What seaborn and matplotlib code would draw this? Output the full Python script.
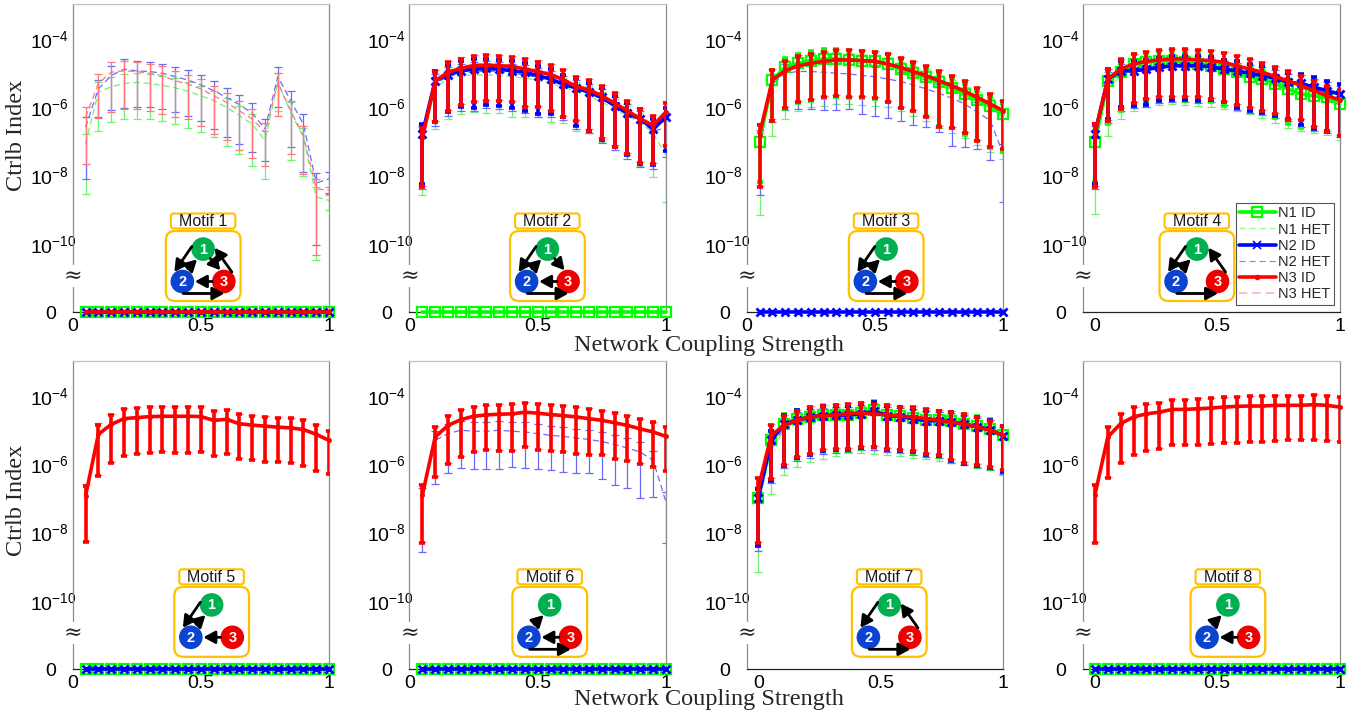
import numpy as np
import pandas as pd
import matplotlib
matplotlib.use("Agg")
import matplotlib.pyplot as plt
import matplotlib.transforms as mtransforms
from matplotlib.patches import FancyBboxPatch, Circle, FancyArrowPatch
from matplotlib.lines import Line2D
from matplotlib.ticker import NullLocator
import seaborn as sns

# ---------------------------------------------------------------- data
# x: network coupling strength
x_a = [0.05, 0.10, 0.15, 0.20, 0.25, 0.30, 0.35, 0.40, 0.45, 0.50,
       0.55, 0.60, 0.65, 0.70, 0.75, 0.80, 0.85, 0.90, 0.95, 1.00]
x_b = [0.000, 0.053, 0.105, 0.158, 0.211, 0.263, 0.316, 0.368, 0.421, 0.474,
       0.526, 0.579, 0.632, 0.684, 0.737, 0.789, 0.842, 0.895, 0.947, 1.000]

# values are given as log10 of the controllability index; -inf means exactly 0
ZERO = [float("-inf")] * 20

# Motif 1
p1_n1_het = [-7.07, -5.55, -5.40, -5.30, -5.27, -5.30, -5.36, -5.43, -5.53, -5.66, -5.80, -6.00, -6.24, -6.49, -6.97, -5.27, -6.14, -6.88, -8.63, -8.73]
p1_n1_het_lo = [-8.53, -6.68, -6.44, -6.34, -6.34, -6.34, -6.41, -6.49, -6.60, -6.73, -6.88, -7.14, -7.36, -7.72, -8.11, -6.10, -7.53, -8.00, -10.48, -9.02]
p1_n2_het = [-6.58, -5.46, -5.07, -4.88, -4.93, -4.95, -5.00, -5.10, -5.20, -5.34, -5.51, -5.71, -5.92, -6.17, -6.63, -5.10, -5.80, -6.50, -8.22, -8.09]
p1_n2_het_lo = [-8.09, -6.29, -6.08, -6.02, -6.00, -6.00, -6.05, -6.14, -6.24, -6.39, -6.63, -6.88, -7.07, -7.31, -7.56, -6.00, -7.17, -7.90, -10.04, -8.50]
p1_n3_het = [-6.29, -5.30, -4.97, -4.93, -4.95, -5.00, -5.07, -5.22, -5.32, -5.46, -5.66, -5.85, -6.10, -6.34, -6.73, -5.27, -6.10, -6.83, -8.39, -8.43]
p1_n3_het_lo = [-7.65, -6.31, -6.14, -6.05, -6.05, -6.10, -6.19, -6.29, -6.34, -6.56, -6.78, -6.97, -7.26, -7.48, -7.71, -6.24, -7.36, -7.95, -10.34, -8.53]

# Motif 2
p2_n1_het = [-7.00, -5.43, -5.15, -5.07, -5.05, -5.05, -5.07, -5.10, -5.15, -5.20, -5.30, -5.41, -5.53, -5.66, -5.85, -6.05, -6.25, -6.45, -6.75, -7.40]
p2_n1_het_lo = [-8.58, -6.63, -6.34, -6.19, -6.14, -6.17, -6.17, -6.27, -6.27, -6.29, -6.44, -6.47, -6.68, -6.76, -7.02, -7.17, -7.41, -7.73, -8.04, -8.78]
p2_n2_id = [-6.78, -5.22, -5.04, -4.93, -4.88, -4.86, -4.88, -4.93, -4.97, -5.07, -5.17, -5.32, -5.43, -5.56, -5.71, -5.95, -6.17, -6.34, -6.63, -6.29]
p2_n2_id_lo = [-8.24, -6.44, -6.14, -6.00, -6.02, -5.92, -5.96, -6.02, -6.10, -6.19, -6.19, -6.29, -6.56, -6.68, -6.97, -7.17, -7.41, -7.65, -7.70, -7.27]
p2_n2_het = [-6.85, -5.30, -5.10, -5.00, -4.95, -4.93, -4.95, -5.00, -5.05, -5.12, -5.22, -5.35, -5.47, -5.60, -5.75, -5.98, -6.20, -6.40, -6.70, -6.60]
p2_n2_het_lo = [-8.40, -6.55, -6.25, -6.10, -6.10, -6.02, -6.05, -6.10, -6.18, -6.27, -6.28, -6.38, -6.63, -6.76, -7.05, -7.25, -7.50, -7.75, -7.80, -7.45]
p2_n3_id = [-6.90, -5.24, -4.97, -4.86, -4.78, -4.76, -4.78, -4.80, -4.88, -4.95, -5.04, -5.19, -5.39, -5.49, -5.66, -5.88, -6.10, -6.34, -6.53, -6.14]
p2_n3_id_lo = [-8.34, -6.44, -6.11, -5.92, -5.85, -5.80, -5.80, -5.85, -6.00, -5.98, -6.10, -6.29, -6.41, -6.68, -6.92, -7.15, -7.38, -7.64, -7.66, -7.12]
p2_n3_het = [-6.80, -5.20, -4.93, -4.80, -4.74, -4.72, -4.74, -4.77, -4.84, -4.90, -5.00, -5.15, -5.35, -5.45, -5.62, -5.85, -6.07, -6.30, -6.50, -6.10]
p2_n3_het_lo = [-8.30, -6.40, -6.08, -5.90, -5.82, -5.78, -5.78, -5.82, -5.96, -5.95, -6.07, -6.25, -6.38, -6.64, -6.88, -7.10, -7.34, -7.60, -7.62, -7.08]

# Motif 3
p3_n1_id = [-7.02, -5.20, -4.83, -4.71, -4.63, -4.58, -4.58, -4.61, -4.63, -4.65, -4.73, -4.88, -5.00, -5.12, -5.27, -5.43, -5.61, -5.78, -5.97, -6.19]
p3_n1_id_lo = [-8.20, -6.40, -6.05, -5.88, -5.80, -5.73, -5.70, -5.72, -5.73, -5.75, -5.85, -6.02, -6.10, -6.25, -6.55, -6.60, -6.80, -7.00, -7.20, -7.30]
p3_n1_het = [-7.05, -5.35, -4.95, -4.80, -4.72, -4.68, -4.67, -4.70, -4.72, -4.75, -4.82, -4.95, -5.07, -5.20, -5.35, -5.50, -5.68, -5.85, -6.05, -6.30]
p3_n1_het_lo = [-9.17, -6.83, -6.34, -6.10, -6.00, -5.95, -5.90, -5.90, -5.92, -5.95, -6.00, -6.10, -6.25, -6.40, -6.60, -6.75, -6.90, -7.10, -7.30, -7.50]
p3_n2_het = [-6.97, -5.32, -5.00, -4.95, -4.95, -4.97, -5.00, -5.02, -5.07, -5.10, -5.17, -5.24, -5.34, -5.46, -5.59, -5.73, -5.90, -6.14, -6.39, -7.36]
p3_n2_het_lo = [-8.58, -6.44, -6.08, -6.05, -6.05, -6.08, -6.08, -6.05, -6.19, -6.24, -6.31, -6.41, -6.53, -6.58, -6.73, -7.12, -7.17, -7.22, -7.54, -8.78]
p3_n3_id = [-6.80, -5.20, -4.93, -4.78, -4.71, -4.65, -4.61, -4.61, -4.63, -4.65, -4.73, -4.83, -4.95, -5.07, -5.22, -5.36, -5.53, -5.71, -5.90, -6.10]
p3_n3_id_lo = [-8.34, -6.39, -6.02, -5.85, -5.78, -5.71, -5.66, -5.71, -5.71, -5.73, -5.85, -6.02, -6.10, -6.27, -6.58, -6.60, -6.76, -7.00, -7.17, -7.22]
p3_n3_het = [-6.75, -5.17, -4.90, -4.75, -4.68, -4.62, -4.58, -4.58, -4.60, -4.62, -4.70, -4.80, -4.92, -5.04, -5.19, -5.33, -5.50, -5.68, -5.87, -6.07]
p3_n3_het_lo = [-8.30, -6.35, -5.98, -5.82, -5.75, -5.68, -5.63, -5.68, -5.68, -5.70, -5.82, -5.98, -6.07, -6.24, -6.55, -6.57, -6.73, -6.97, -7.14, -7.19]

# Motif 4
p4_n1_id = [-7.02, -5.22, -4.97, -4.73, -4.68, -4.63, -4.63, -4.68, -4.73, -4.78, -4.88, -4.97, -5.10, -5.17, -5.32, -5.46, -5.61, -5.66, -5.71, -5.90]
p4_n1_id_lo = [-8.20, -6.50, -6.10, -5.95, -5.85, -5.80, -5.78, -5.80, -5.82, -5.85, -5.95, -6.02, -6.10, -6.20, -6.30, -6.50, -6.60, -6.65, -6.70, -6.85]
p4_n1_het = [-7.20, -5.45, -5.10, -4.90, -4.80, -4.75, -4.73, -4.75, -4.78, -4.82, -4.90, -5.00, -5.10, -5.20, -5.33, -5.45, -5.58, -5.68, -5.78, -5.92]
p4_n1_het_lo = [-9.12, -6.83, -6.34, -6.10, -5.98, -5.92, -5.90, -5.92, -5.95, -5.98, -6.05, -6.12, -6.20, -6.30, -6.45, -6.60, -6.68, -6.75, -6.80, -6.95]
p4_n2_id = [-6.78, -5.17, -4.93, -4.93, -4.88, -4.83, -4.78, -4.78, -4.78, -4.81, -4.88, -4.93, -5.00, -5.07, -5.14, -5.27, -5.30, -5.41, -5.51, -5.61]
p4_n2_id_lo = [-8.24, -6.34, -6.00, -5.95, -5.92, -5.80, -5.78, -5.78, -5.80, -5.78, -5.85, -6.02, -6.10, -6.17, -6.24, -6.34, -6.53, -6.63, -6.68, -6.83]
p4_n2_het = [-6.85, -5.25, -5.00, -4.97, -4.92, -4.87, -4.82, -4.82, -4.82, -4.85, -4.92, -4.97, -5.04, -5.11, -5.18, -5.30, -5.34, -5.45, -5.55, -5.65]
p4_n2_het_lo = [-8.40, -6.45, -6.10, -6.02, -5.98, -5.88, -5.85, -5.85, -5.87, -5.85, -5.92, -6.08, -6.16, -6.23, -6.30, -6.40, -6.58, -6.68, -6.74, -6.88]
p4_n3_id = [-6.78, -5.17, -4.88, -4.73, -4.65, -4.61, -4.58, -4.58, -4.61, -4.63, -4.68, -4.78, -4.88, -4.97, -5.10, -5.22, -5.36, -5.51, -5.66, -5.78]
p4_n3_id_lo = [-8.34, -6.39, -6.05, -5.88, -5.75, -5.71, -5.69, -5.71, -5.71, -5.75, -5.85, -5.92, -6.02, -6.10, -6.19, -6.37, -6.37, -6.58, -6.73, -6.83]
p4_n3_het = [-6.75, -5.15, -4.86, -4.71, -4.63, -4.59, -4.56, -4.56, -4.59, -4.61, -4.66, -4.76, -4.86, -4.95, -5.08, -5.20, -5.34, -5.49, -5.64, -5.76]
p4_n3_het_lo = [-8.30, -6.36, -6.02, -5.85, -5.72, -5.68, -5.66, -5.68, -5.68, -5.72, -5.82, -5.89, -5.99, -6.07, -6.16, -6.34, -6.34, -6.55, -6.70, -6.80]

# Motif 5
p5_n3_id = [-6.93, -5.12, -4.83, -4.66, -4.63, -4.60, -4.59, -4.59, -4.59, -4.60, -4.71, -4.68, -4.81, -4.85, -4.88, -4.91, -4.93, -4.98, -5.12, -5.30]
p5_n3_id_lo = [-8.29, -6.34, -5.95, -5.76, -5.71, -5.66, -5.63, -5.66, -5.66, -5.64, -5.76, -5.69, -5.83, -5.88, -5.93, -5.92, -5.95, -6.05, -6.20, -6.29]
p5_n3_het = [-6.88, -5.08, -4.80, -4.64, -4.61, -4.58, -4.57, -4.57, -4.57, -4.58, -4.69, -4.66, -4.79, -4.83, -4.86, -4.89, -4.91, -4.96, -5.10, -5.28]
p5_n3_het_lo = [-8.25, -6.30, -5.92, -5.73, -5.68, -5.63, -5.60, -5.63, -5.63, -5.61, -5.73, -5.66, -5.80, -5.85, -5.90, -5.89, -5.92, -6.02, -6.17, -6.26]

# Motif 6
p6_n2_het = [-7.00, -5.30, -5.10, -5.00, -5.03, -5.03, -5.00, -5.03, -5.05, -5.10, -5.15, -5.18, -5.23, -5.27, -5.33, -5.42, -5.52, -5.64, -5.88, -7.10]
p6_n2_het_lo = [-8.57, -6.57, -6.24, -6.11, -6.13, -6.13, -6.13, -6.08, -6.11, -6.15, -6.18, -6.22, -6.24, -6.24, -6.42, -6.61, -6.69, -7.00, -6.96, -8.32]
p6_n3_id = [-6.91, -5.20, -4.86, -4.69, -4.59, -4.55, -4.53, -4.52, -4.47, -4.50, -4.54, -4.57, -4.61, -4.66, -4.71, -4.78, -4.86, -4.96, -5.05, -5.18]
p6_n3_id_lo = [-8.32, -6.37, -5.98, -5.79, -5.64, -5.59, -5.62, -5.62, -5.49, -5.59, -5.62, -5.64, -5.71, -5.72, -5.74, -5.83, -5.91, -5.98, -6.08, -6.20]
p6_n3_het = [-6.88, -5.15, -4.84, -4.67, -4.57, -4.53, -4.51, -4.50, -4.45, -4.48, -4.52, -4.55, -4.59, -4.64, -4.69, -4.76, -4.84, -4.94, -5.03, -5.16]
p6_n3_het_lo = [-8.29, -6.34, -5.95, -5.76, -5.61, -5.56, -5.59, -5.59, -5.46, -5.56, -5.59, -5.61, -5.68, -5.69, -5.71, -5.80, -5.88, -5.95, -6.05, -6.17]

# Motif 7
p7_n1_id = [-7.00, -5.30, -4.81, -4.68, -4.60, -4.55, -4.55, -4.55, -4.49, -4.42, -4.55, -4.59, -4.64, -4.71, -4.71, -4.74, -4.81, -4.88, -4.96, -5.15]
p7_n1_id_lo = [-8.40, -6.50, -6.05, -5.84, -5.74, -5.64, -5.61, -5.61, -5.54, -5.52, -5.59, -5.64, -5.67, -5.74, -5.77, -5.92, -6.00, -6.08, -6.13, -6.23]
p7_n1_het = [-7.20, -5.60, -5.00, -4.80, -4.70, -4.65, -4.62, -4.60, -4.57, -4.55, -4.60, -4.63, -4.68, -4.73, -4.75, -4.80, -4.86, -4.93, -5.00, -5.20]
p7_n1_het_lo = [-9.15, -6.86, -6.32, -6.08, -5.93, -5.83, -5.76, -5.68, -5.68, -5.70, -5.72, -5.75, -5.80, -5.85, -5.90, -5.95, -6.00, -6.08, -6.15, -6.30]
p7_n2_id = [-7.00, -5.30, -4.83, -4.70, -4.62, -4.57, -4.56, -4.56, -4.51, -4.45, -4.57, -4.60, -4.66, -4.72, -4.72, -4.76, -4.83, -4.90, -4.98, -5.17]
p7_n2_id_lo = [-8.38, -6.48, -6.04, -5.82, -5.72, -5.62, -5.59, -5.59, -5.52, -5.50, -5.57, -5.62, -5.65, -5.72, -5.75, -5.90, -5.98, -6.06, -6.11, -6.21]
p7_n2_het = [-7.10, -5.45, -4.95, -4.76, -4.67, -4.62, -4.60, -4.59, -4.55, -4.50, -4.59, -4.62, -4.67, -4.73, -4.74, -4.78, -4.85, -4.92, -5.00, -5.19]
p7_n2_het_lo = [-8.55, -6.55, -6.10, -5.90, -5.80, -5.70, -5.66, -5.64, -5.58, -5.57, -5.63, -5.68, -5.72, -5.79, -5.82, -5.96, -6.03, -6.10, -6.16, -6.27]
p7_n3_id = [-6.71, -5.15, -4.86, -4.71, -4.61, -4.57, -4.55, -4.52, -4.49, -4.52, -4.55, -4.59, -4.61, -4.66, -4.71, -4.76, -4.81, -4.91, -5.00, -5.15]
p7_n3_id_lo = [-8.32, -6.44, -6.01, -5.79, -5.69, -5.59, -5.56, -5.56, -5.49, -5.49, -5.54, -5.59, -5.62, -5.69, -5.72, -5.88, -5.95, -6.03, -6.08, -6.18]
p7_n3_het = [-6.68, -5.12, -4.83, -4.68, -4.58, -4.54, -4.52, -4.49, -4.46, -4.49, -4.52, -4.56, -4.58, -4.63, -4.68, -4.73, -4.78, -4.88, -4.97, -5.12]
p7_n3_het_lo = [-8.28, -6.40, -5.98, -5.76, -5.66, -5.56, -5.53, -5.53, -5.46, -5.46, -5.51, -5.56, -5.59, -5.66, -5.69, -5.85, -5.92, -6.00, -6.05, -6.15]

# Motif 8
p8_n3_id = [-6.91, -5.20, -4.81, -4.61, -4.52, -4.47, -4.39, -4.39, -4.37, -4.35, -4.32, -4.30, -4.29, -4.29, -4.27, -4.27, -4.27, -4.25, -4.27, -4.32]
p8_n3_id_lo = [-8.32, -6.40, -5.95, -5.74, -5.62, -5.54, -5.42, -5.44, -5.42, -5.40, -5.37, -5.37, -5.35, -5.35, -5.33, -5.30, -5.30, -5.30, -5.33, -5.35]
p8_n3_het = [-6.88, -5.16, -4.78, -4.59, -4.50, -4.45, -4.37, -4.37, -4.35, -4.33, -4.30, -4.28, -4.27, -4.27, -4.25, -4.25, -4.25, -4.23, -4.25, -4.30]
p8_n3_het_lo = [-8.28, -6.36, -5.92, -5.71, -5.59, -5.51, -5.39, -5.41, -5.39, -5.37, -5.34, -5.34, -5.32, -5.32, -5.30, -5.27, -5.27, -5.27, -5.30, -5.32]

# motif wiring (directed edges a->b)
motif_edges_1 = [(1, 2), (2, 1), (1, 3), (3, 1), (3, 2), (2, 3)]
motif_edges_2 = [(1, 2), (2, 1), (1, 3), (3, 2), (2, 3)]
motif_edges_3 = [(1, 2), (2, 1), (3, 2), (2, 3)]
motif_edges_4 = [(1, 2), (2, 1), (3, 1), (2, 3)]
motif_edges_5 = [(1, 2), (2, 1), (3, 2)]
motif_edges_6 = [(2, 1), (3, 2), (2, 3)]
motif_edges_7 = [(1, 2), (3, 1), (2, 3)]
motif_edges_8 = [(2, 1), (3, 2)]

series_names = ["N1 ID", "N1 HET", "N2 ID", "N2 HET", "N3 ID", "N3 HET"]
ytick_values = [1e-12, 1e-10, 1e-8, 1e-6, 1e-4]
ytick_labels = ["0", r"$\mathregular{10^{-10}}$", r"$\mathregular{10^{-8}}$",
                r"$\mathregular{10^{-6}}$", r"$\mathregular{10^{-4}}$"]
xtick_values = [0, 0.5, 1]
xtick_labels = ["0", "0.5", "1"]

panels = [
    dict(x=x_a, s=[(ZERO, ZERO), (p1_n1_het, p1_n1_het_lo), (ZERO, ZERO), (p1_n2_het, p1_n2_het_lo), (ZERO, ZERO), (p1_n3_het, p1_n3_het_lo)], edges=motif_edges_1),
    dict(x=x_a, s=[(ZERO, ZERO), (p2_n1_het, p2_n1_het_lo), (p2_n2_id, p2_n2_id_lo), (p2_n2_het, p2_n2_het_lo), (p2_n3_id, p2_n3_id_lo), (p2_n3_het, p2_n3_het_lo)], edges=motif_edges_2),
    dict(x=x_a, s=[(p3_n1_id, p3_n1_id_lo), (p3_n1_het, p3_n1_het_lo), (ZERO, ZERO), (p3_n2_het, p3_n2_het_lo), (p3_n3_id, p3_n3_id_lo), (p3_n3_het, p3_n3_het_lo)], edges=motif_edges_3),
    dict(x=x_b, s=[(p4_n1_id, p4_n1_id_lo), (p4_n1_het, p4_n1_het_lo), (p4_n2_id, p4_n2_id_lo), (p4_n2_het, p4_n2_het_lo), (p4_n3_id, p4_n3_id_lo), (p4_n3_het, p4_n3_het_lo)], edges=motif_edges_4),
    dict(x=x_a, s=[(ZERO, ZERO), (ZERO, ZERO), (ZERO, ZERO), (ZERO, ZERO), (p5_n3_id, p5_n3_id_lo), (p5_n3_het, p5_n3_het_lo)], edges=motif_edges_5),
    dict(x=x_a, s=[(ZERO, ZERO), (ZERO, ZERO), (ZERO, ZERO), (p6_n2_het, p6_n2_het_lo), (p6_n3_id, p6_n3_id_lo), (p6_n3_het, p6_n3_het_lo)], edges=motif_edges_6),
    dict(x=x_b, s=[(p7_n1_id, p7_n1_id_lo), (p7_n1_het, p7_n1_het_lo), (p7_n2_id, p7_n2_id_lo), (p7_n2_het, p7_n2_het_lo), (p7_n3_id, p7_n3_id_lo), (p7_n3_het, p7_n3_het_lo)], edges=motif_edges_7),
    dict(x=x_b, s=[(ZERO, ZERO), (ZERO, ZERO), (ZERO, ZERO), (ZERO, ZERO), (p8_n3_id, p8_n3_id_lo), (p8_n3_het, p8_n3_het_lo)], edges=motif_edges_8),
]

# ---------------------------------------------------------------- styling
sns.set_theme(style="white")
plt.rcParams["font.family"] = ["Liberation Sans", "DejaVu Sans"]
plt.rcParams["mathtext.default"] = "regular"

GREEN, BLUE, RED = "#00ff00", "#0000ff", "#ff0000"
GREEN_L, BLUE_L, RED_L = "#6cf56c", "#6a6aff", "#ff7878"
DASH = (0, (5, 3))
STYLES = [
    dict(color=GREEN, lw=2.6, ls="-", marker="s", ms=6.5, mfc="none", mew=1.6, elw=2.6, cap=2.0, z=3.0),
    dict(color=GREEN_L, lw=0.9, ls=DASH, marker=None, elw=0.9, cap=2.6, z=2.0),
    dict(color=BLUE, lw=2.6, ls="-", marker="x", ms=6.0, mfc=BLUE, mew=2.0, elw=2.6, cap=2.0, z=3.2),
    dict(color=BLUE_L, lw=0.9, ls=DASH, marker=None, elw=0.9, cap=2.6, z=2.2),
    dict(color=RED, lw=2.6, ls="-", marker="o", ms=3.0, mfc=RED, mew=0.5, elw=2.6, cap=2.2, z=3.4),
    dict(color=RED_L, lw=0.9, ls=DASH, marker=None, elw=0.9, cap=2.6, z=2.4),
]

W, H = 1367, 717
fig = plt.figure(figsize=(W / 100, H / 100), dpi=100)
fig.patch.set_facecolor("white")

FLOOR = 1e-12


def fwd(v):
    v = np.asarray(v, dtype=float)
    return np.log10(np.clip(v, FLOOR, None))


def inv(t):
    return np.power(10.0, np.asarray(t, dtype=float))


def px_rect(left, top, w, h):
    return [left / W, 1 - (top + h) / H, w / W, h / H]


col_left = [72.7, 409.5, 746.7, 1083.3]
row_top = [4.0, 361.0]
AX_W, AX_H = 256.4, 308.0
motif_label_top = [212.5, 568.3]
motif_cx = [0.509, 0.538, 0.544, 0.443, 0.542, 0.547, 0.556, 0.564]

NODE_POS = {1: (38.3, 36.6), 2: (17.5, 69.0), 3: (59.0, 69.0)}
NODE_COL = {1: "#00b050", 2: "#0a44d0", 3: "#ee0000"}
EDGE_PATH = {
    (1, 2): ((27.0, 34.0), (9.5, 59.5)),
    (2, 1): ((22.8, 56.0), (32.2, 46.8)),
    (1, 3): ((45.5, 46.0), (55.5, 57.8)),
    (3, 1): ((67.0, 59.5), (49.8, 35.2)),
    (3, 2): ((47.5, 69.0), (30.0, 69.0)),
    (2, 3): ((18.3, 81.0), (59.5, 81.0)),
}
MW, MH = 76.7, 89.5
ORANGE = "#ffc000"


def draw_motif(left_px, top_px, number, edges):
    m = fig.add_axes(px_rect(left_px, top_px, MW, MH))
    m.set_xlim(0, MW)
    m.set_ylim(MH, 0)
    m.axis("off")
    m.patch.set_alpha(0)
    m.add_patch(FancyBboxPatch((6.0, 1.0), 64.5, 15.0, boxstyle="round,pad=0,rounding_size=3",
                               fc="white", ec=ORANGE, lw=1.5, clip_on=False))
    m.text(38.3, 8.8, f"Motif {number}", ha="center", va="center", fontsize=11.5, color="#1a1a1a")
    m.add_patch(FancyBboxPatch((1.0, 18.5), MW - 2.0, MH - 19.5, boxstyle="round,pad=0,rounding_size=9",
                               fc="white", ec=ORANGE, lw=1.6, clip_on=False))
    for k, (cx, cy) in NODE_POS.items():
        m.add_patch(Circle((cx, cy), 11.8, fc=NODE_COL[k], ec="none", zorder=3))
        m.text(cx, cy + 0.5, str(k), ha="center", va="center", color="white",
               fontsize=10.5, fontweight="bold", zorder=4)
    for e in edges:
        a, b = EDGE_PATH[e]
        m.add_patch(FancyArrowPatch(a, b, arrowstyle="-|>,head_length=0.7,head_width=0.38",
                                    mutation_scale=10, lw=2.0, color="black",
                                    shrinkA=0, shrinkB=0, zorder=5))


axes = []
for i, P in enumerate(panels):
    r, c = divmod(i, 4)
    ax = fig.add_axes(px_rect(col_left[c], row_top[r], AX_W, AX_H))
    axes.append(ax)
    ax.set_yscale("function", functions=(fwd, inv))
    x = np.asarray(P["x"], dtype=float)
    for (mean_exp, lo_exp), st in zip(P["s"], STYLES):
        mean = np.power(10.0, np.asarray(mean_exp, dtype=float))
        lo = np.power(10.0, np.asarray(lo_exp, dtype=float))
        std = mean - lo
        if np.any(std > 0):
            ax.errorbar(x, mean, yerr=[std, std], fmt="none", ecolor=st["color"],
                        elinewidth=st["elw"], capsize=st["cap"], capthick=st["elw"],
                        zorder=st["z"] - 0.01)
        df = pd.DataFrame({"x": x, "y": mean})
        kw = dict(color=st["color"], linewidth=st["lw"], linestyle=st["ls"],
                  zorder=st["z"], clip_on=False)
        if st["marker"]:
            kw.update(marker=st["marker"], markersize=st["ms"], markerfacecolor=st["mfc"],
                      markeredgecolor=st["color"], markeredgewidth=st["mew"])
        sns.lineplot(data=df, x="x", y="y", ax=ax, estimator=None, errorbar=None,
                     sort=False, legend=False, **kw)

    ax.set_xlabel("")
    ax.set_ylabel("")
    ax.set_xlim(-0.047 if P["x"][0] == 0 else 0.0, 1.0)
    ax.set_ylim(FLOOR, 10 ** -2.97)
    ax.set_yticks(ytick_values)
    ax.set_yticklabels(ytick_labels)
    ax.yaxis.set_minor_locator(NullLocator())
    ax.set_xticks(xtick_values)
    ax.set_xticklabels(xtick_labels)
    ax.xaxis.set_minor_locator(NullLocator())
    ax.tick_params(axis="both", direction="in", length=4, width=0.8, color="#444444",
                   labelsize=14, labelcolor="black")
    ax.tick_params(axis="x", pad=4)
    for lab in ax.get_yticklabels():
        lab.set_horizontalalignment("left")
    for t, v in zip(ax.yaxis.get_major_ticks(), ytick_values):
        t.set_pad(20.0 if v == FLOOR else 30.5)
    for side in ("left", "right", "top"):
        ax.spines[side].set_color("#8c8c8c")
        ax.spines[side].set_linewidth(0.9)
    ax.spines["top"].set_color("#c0c0c0")
    ax.spines["bottom"].set_color("#222222")
    ax.spines["bottom"].set_linewidth(0.9)
    trans = mtransforms.blended_transform_factory(ax.transAxes, ax.transData)
    ax.text(0.0, 10 ** -10.95, "\u2248", transform=trans, ha="center", va="center",
            fontsize=16, family="DejaVu Serif", zorder=6, clip_on=False,
            bbox=dict(fc="white", ec="none", pad=0.2))

    left_px = col_left[c] + motif_cx[i] * AX_W - MW / 2
    draw_motif(left_px, motif_label_top[r], i + 1, P["edges"])

# legend in motif-4 panel
handles = [
    Line2D([0], [0], color=GREEN, lw=2.6, marker="s", ms=6.5, mfc="none", mec=GREEN, mew=1.6),
    Line2D([0], [0], color="#9cf79c", lw=0.9, ls=DASH),
    Line2D([0], [0], color=BLUE, lw=2.6, marker="x", ms=6.0, mec=BLUE, mew=1.2),
    Line2D([0], [0], color="#8c8cff", lw=0.9, ls=DASH),
    Line2D([0], [0], color=RED, lw=2.6, marker="o", ms=3.0, mfc=RED, mec=RED),
    Line2D([0], [0], color="#ffb0b0", lw=1.2, ls=DASH),
]
leg = axes[3].legend(handles, series_names, loc="lower right", bbox_to_anchor=(0.977, 0.023),
                     frameon=True, fancybox=False, edgecolor="#555555", facecolor="white",
                     framealpha=1.0, fontsize=10.5, handlelength=2.5, handletextpad=0.15,
                     labelspacing=0.15, borderpad=0.25, borderaxespad=0.0)
leg.get_frame().set_linewidth(0.8)
leg.set_zorder(10)

# shared labels
SERIF = ["Liberation Serif", "DejaVu Serif"]
for yc in (135.0, 500.0):
    fig.text(16.5 / W, 1 - yc / H, "Ctrlb Index", rotation=90, ha="center", va="center",
             fontsize=17.5, family=SERIF)
for yc in (346.0, 700.0):
    fig.text(709.0 / W, 1 - yc / H, "Network Coupling Strength", ha="center", va="center",
             fontsize=17.5, family=SERIF)

fig.savefig("out.png", dpi=100, facecolor="white")
